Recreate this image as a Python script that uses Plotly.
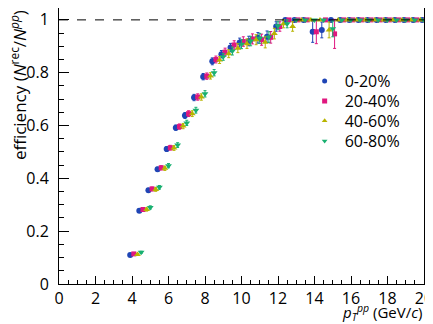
import plotly.graph_objects as go

# pT bin centres (GeV/c)
pt_bins = [4.0, 4.5, 5.0, 5.5, 6.0, 6.5, 7.0, 7.5, 8.0, 8.5, 9.0, 9.5, 10.0, 10.5,
           11.0, 11.5, 12.0, 12.5, 13.0, 13.5, 14.0, 14.5, 15.0, 15.5, 16.0, 16.5,
           17.0, 17.5, 18.0, 18.5, 19.0, 19.5, 20.0]

eff_0_20 = [0.110, 0.277, 0.355, 0.434, 0.511, 0.592, 0.638, 0.706, 0.785, 0.843, 0.870,
            0.895, 0.914, 0.920, 0.932, 0.936, 0.975, 1.0, 1.0, 1.0, 0.955, 0.962, 1.0,
            1.0, 1.0, 1.0, 1.0, 1.0, 1.0, 1.0, 1.0, 1.0, 1.0]
err_0_20 = [0.004, 0.006, 0.007, 0.008, 0.009, 0.010, 0.011, 0.012, 0.012, 0.013, 0.014,
            0.016, 0.017, 0.018, 0.020, 0.022, 0.018, 0, 0, 0, 0.040, 0.030, 0,
            0, 0, 0, 0, 0, 0, 0, 0, 0, 0]

eff_20_40 = [0.114, 0.282, 0.360, 0.440, 0.516, 0.596, 0.645, 0.708, 0.787, 0.850, 0.878,
             0.905, 0.918, 0.928, 0.925, 0.934, 0.975, 1.0, 1.0, 1.0, 0.955, 1.0, 0.947,
             1.0, 1.0, 1.0, 1.0, 1.0, 1.0, 1.0, 1.0, 1.0, 1.0]
err_20_40 = [0.004, 0.006, 0.007, 0.008, 0.009, 0.010, 0.011, 0.012, 0.012, 0.013, 0.015,
             0.016, 0.018, 0.019, 0.021, 0.022, 0.018, 0, 0, 0, 0.045, 0, 0.055,
             0, 0, 0, 0, 0, 0, 0, 0, 0, 0]

eff_40_60 = [0.112, 0.282, 0.358, 0.438, 0.515, 0.598, 0.645, 0.708, 0.788, 0.848, 0.872,
             0.893, 0.910, 0.925, 0.915, 0.948, 0.985, 0.975, 1.0, 1.0, 1.0, 0.962, 1.0,
             1.0, 1.0, 1.0, 1.0, 1.0, 1.0, 1.0, 1.0, 1.0, 1.0]
err_40_60 = [0.004, 0.006, 0.007, 0.008, 0.009, 0.010, 0.011, 0.012, 0.012, 0.013, 0.015,
             0.017, 0.018, 0.019, 0.021, 0.020, 0.015, 0.018, 0, 0, 0, 0.030, 0,
             0, 0, 0, 0, 0, 0, 0, 0, 0, 0]

eff_60_80 = [0.120, 0.290, 0.366, 0.448, 0.526, 0.610, 0.658, 0.720, 0.800, 0.860, 0.882,
             0.908, 0.920, 0.930, 0.935, 0.978, 0.985, 1.0, 1.0, 1.0, 1.0, 0.966, 1.0,
             1.0, 1.0, 1.0, 1.0, 1.0, 1.0, 1.0, 1.0, 1.0, 1.0]
err_60_80 = [0.004, 0.006, 0.007, 0.008, 0.009, 0.010, 0.011, 0.012, 0.012, 0.013, 0.015,
             0.017, 0.018, 0.019, 0.020, 0.015, 0.015, 0, 0, 0, 0, 0.030, 0,
             0, 0, 0, 0, 0, 0, 0, 0, 0, 0]

series = [
    ('0-20%', eff_0_20, err_0_20, '#1f45b5', 'circle', 6, -0.1),
    ('20-40%', eff_20_40, err_20_40, '#e0177f', 'square', 5, 0.1),
    ('40-60%', eff_40_60, err_40_60, '#b8b400', 'triangle-up', 6, 0.3),
    ('60-80%', eff_60_80, err_60_80, '#18b070', 'triangle-down', 6, 0.5),
]

FONT = 'Open Sans'

fig = go.Figure()

fig.add_shape(type='line', x0=0, x1=20, y0=1, y1=1, xref='x', yref='y',
              line=dict(color='black', width=1, dash='dash'))

# one small legend per entry so the row spacing can follow the original
legend_names = ['legend', 'legend2', 'legend3', 'legend4']
legend_y = [0.7355, 0.663, 0.591, 0.518]

for i, (name, eff, err, col, sym, sz, shift) in enumerate(series):
    fig.add_trace(go.Scatter(
        x=[p + shift for p in pt_bins], y=eff,
        mode='markers', showlegend=False,
        marker=dict(color=col, symbol=sym, size=sz),
        error_y=dict(type='data', array=err, color=col, thickness=1, width=1.5),
    ))
    # legend entry without error bars
    fig.add_trace(go.Scatter(
        x=[None], y=[None], mode='markers', name=name, legend=legend_names[i],
        marker=dict(color=col, symbol=sym, size=5),
    ))

legend_style = dict(x=0.673, xanchor='left', yanchor='middle',
                    font=dict(family=FONT, size=16), bgcolor='rgba(0,0,0,0)')

# the page body adds an 8px offset, so margins are shifted to compensate
fig.update_layout(
    width=433, height=324,
    margin=dict(l=51, r=17, t=0, b=48),
    paper_bgcolor='white', plot_bgcolor='white',
    font=dict(family=FONT, size=16, color='black'),
    legend=dict(y=legend_y[0], **legend_style),
    legend2=dict(y=legend_y[1], **legend_style),
    legend3=dict(y=legend_y[2], **legend_style),
    legend4=dict(y=legend_y[3], **legend_style),
    annotations=[
        dict(text='<i>p</i><sub><i>T</i></sub><sup><i>pp</i></sup> (GeV/<i>c</i>)',
             x=1.0, y=-0.055, xref='paper', yref='paper',
             xanchor='right', yanchor='top', showarrow=False,
             font=dict(family=FONT, size=15)),
        dict(text='efficiency (<i>N</i><sup>rec</sup>/<i>N</i><sup><i>pp</i></sup>)',
             x=-0.112, y=1.0, xref='paper', yref='paper', textangle=-90,
             xanchor='center', yanchor='top', showarrow=False,
             font=dict(family=FONT, size=17)),
    ],
)

fig.update_xaxes(range=[0, 20], dtick=2, tick0=0, showgrid=False, zeroline=False,
                 showline=True, mirror=True, linecolor='black', linewidth=1,
                 ticks='inside', ticklen=8, tickcolor='black',
                 minor=dict(dtick=0.5, ticks='inside', ticklen=4, tickcolor='black', showgrid=False),
                 tickfont=dict(family=FONT, size=16))
fig.update_yaxes(range=[0, 1.045], dtick=0.2, tick0=0, showgrid=False, zeroline=False,
                 showline=True, mirror=True, linecolor='black', linewidth=1,
                 ticks='inside', ticklen=10, tickcolor='black', ticklabelstandoff=6,
                 minor=dict(dtick=0.05, ticks='inside', ticklen=5, tickcolor='black', showgrid=False),
                 tickfont=dict(family=FONT, size=16))

fig.write_html("out.html")
